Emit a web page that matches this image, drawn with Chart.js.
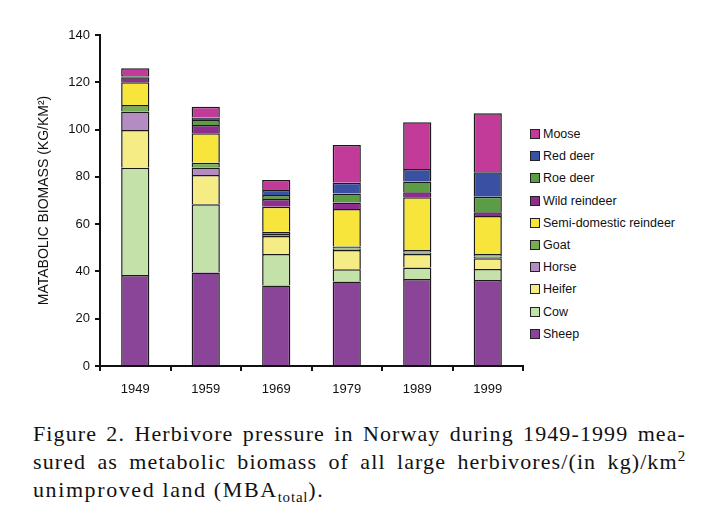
<!DOCTYPE html>
<html>
<head>
<meta charset="utf-8">
<script src="https://cdn.jsdelivr.net/npm/chart.js@4.4.1/dist/chart.umd.min.js"></script>
<style>
    body { margin: 0; background: #fff; width: 706px; height: 518px; overflow: hidden; position: relative; }
    #wrap { position: absolute; left: 0; top: 0; width: 530px; height: 400px; }
    #legend { position: absolute; left: 530px; top: 123px; font-family: "Liberation Sans", Arial, sans-serif; font-size: 12.5px; color: #111; }
    #legend div { height: 22.2px; display: flex; align-items: center; white-space: nowrap; }
    #legend span.box { display: inline-block; width: 8px; height: 8px; border: 1px solid #222; margin-right: 3px; }
    #caption { position: absolute; left: 33px; top: 420px; width: 653px; font-family: "Liberation Serif", "Times New Roman", serif; font-size: 22px; letter-spacing: 1.1px; line-height: 28px; color: #111; }
    #caption div { white-space: nowrap; }
    #caption .j { text-align: justify; text-align-last: justify; }
    #caption sup, #caption sub { font-size: 15px; line-height: 0; letter-spacing: 0.8px; }
    #caption .w { letter-spacing: 1.6px; }
</style>
</head>
<body>
<div id="wrap"><canvas id="chart"></canvas></div>
<div id="legend"></div>
<div id="caption">
    <div class="j">Figure 2. Herbivore pressure in Norway during 1949-1999 mea-</div>
    <div class="j">sured as metabolic biomass of all large herbivores/(in kg)/km<sup>2</sup></div>
    <div class="w">unimproved land (MBA<sub>total</sub>).</div>
</div>
<script>
const years = ['1949', '1959', '1969', '1979', '1989', '1999'];
const yTicks = [0, 20, 40, 60, 80, 100, 120, 140];

const sheep      = [38.5, 39.5, 34.0, 35.7, 36.8, 36.4];
const cow        = [45.4, 28.9, 13.4, 5.2, 4.9, 4.6];
const heifer     = [15.9, 12.4, 7.6, 8.2, 5.7, 4.6];
const horse      = [7.8, 3.2, 0.8, 0.5, 0.6, 0.6];
const goat       = [2.8, 2.0, 1.0, 0.9, 1.1, 1.2];
const semiDom    = [9.6, 12.4, 10.6, 15.9, 22.3, 16.0];
const wildRein   = [2.1, 3.5, 3.2, 2.8, 2.1, 1.6];
const roeDeer    = [0.5, 2.2, 1.7, 3.8, 4.5, 6.6];
const redDeer    = [0.5, 1.0, 2.1, 4.5, 5.3, 10.3];
const moose      = [2.8, 4.5, 4.3, 16.0, 19.8, 25.0];

const series = [
    { label: 'Sheep', data: sheep, color: '#8a4598' },
    { label: 'Cow', data: cow, color: '#c5e1aa' },
    { label: 'Heifer', data: heifer, color: '#f6ec85' },
    { label: 'Horse', data: horse, color: '#b48cc2' },
    { label: 'Goat', data: goat, color: '#78ad55' },
    { label: 'Semi-domestic reindeer', data: semiDom, color: '#f8e53c' },
    { label: 'Wild reindeer', data: wildRein, color: '#8e2d8e' },
    { label: 'Roe deer', data: roeDeer, color: '#5c9c45' },
    { label: 'Red deer', data: redDeer, color: '#3a50a2' },
    { label: 'Moose', data: moose, color: '#c23b98' }
];

document.getElementById('legend').innerHTML = series.slice().reverse().map(s =>
    `<div><span class="box" style="background:${s.color}"></span>${s.label}</div>`
).join('');

const font = { family: '"Liberation Sans", Arial, sans-serif', size: 13 };

new Chart(document.getElementById('chart').getContext('2d'), {
    type: 'bar',
    data: {
        labels: years,
        datasets: series.map(s => ({
            label: s.label,
            data: s.data,
            backgroundColor: s.color,
            borderColor: '#1a1a1a',
            borderWidth: 1.5,
            barPercentage: 0.4,
            categoryPercentage: 1
        }))
    },
    options: {
        responsive: true,
        maintainAspectRatio: false,
        animation: false,
        layout: { padding: { top: 35, right: 7, left: 0, bottom: 0 } },
        plugins: { legend: { display: false }, tooltip: { enabled: false } },
        scales: {
            x: {
                stacked: true,
                grid: { drawOnChartArea: false, color: '#111', tickLength: 5, lineWidth: 2 },
                border: { color: '#111', width: 2 },
                ticks: { color: '#111', font: font, padding: 11 },
                afterFit: s => { s.height = 34; }
            },
            y: {
                stacked: true,
                min: 0,
                max: 140,
                afterBuildTicks: s => { s.ticks = yTicks.map(v => ({ value: v })); },
                grid: { drawOnChartArea: false, color: '#111', tickLength: 5, lineWidth: 2 },
                border: { color: '#111', width: 2 },
                ticks: { color: '#111', font: font, padding: 5 },
                title: { display: true, text: 'MATABOLIC BIOMASS (KG/KM²)', color: '#111', font: { family: font.family, size: 14 }, padding: { top: 36, bottom: 0 } },
                afterFit: s => { s.width = 100; }
            }
        }
    }
});
</script>
</body>
</html>
